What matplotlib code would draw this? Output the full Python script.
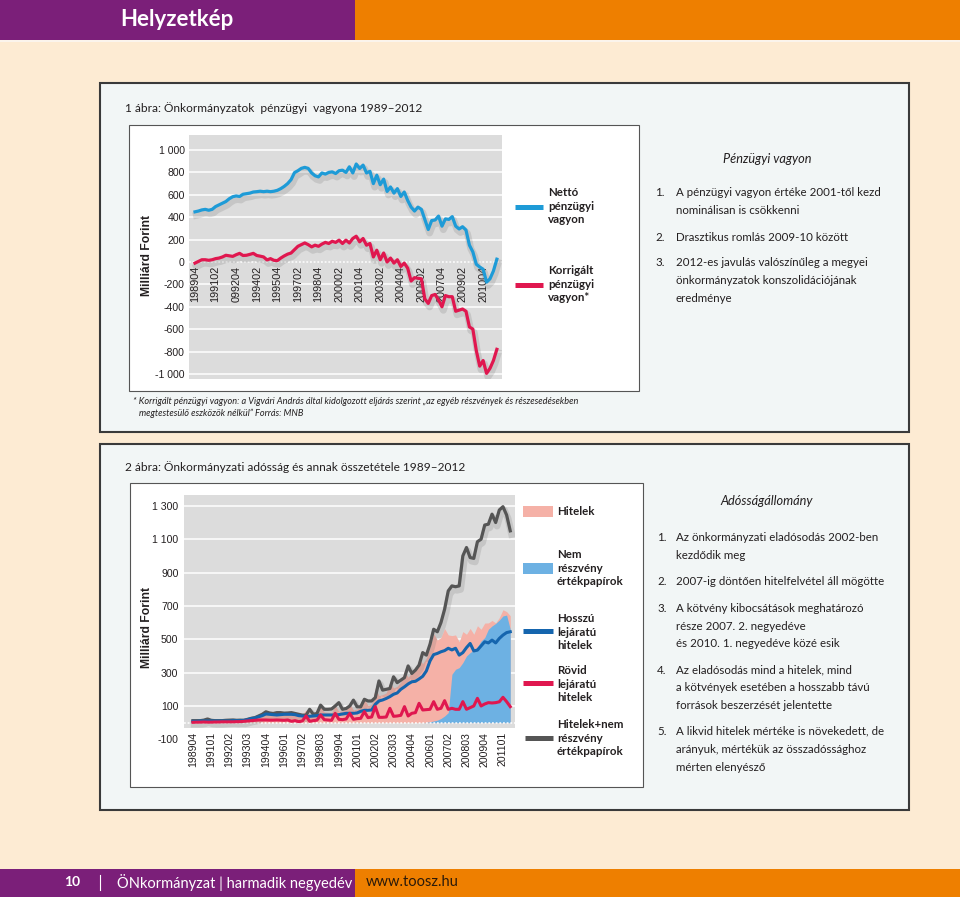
import matplotlib.pyplot as plt
import matplotlib.patheffects as pe
from matplotlib import font_manager
from matplotlib.lines import Line2D
from matplotlib.patches import Rectangle
import numpy as np

# 1. ábra - pénzügyi vagyon, negyedéves adatok 1989Q4-2011Q4 (Mrd Ft)
netto = [448, 455, 465, 470, 462, 470, 495, 510, 525, 540,
         565, 583, 590, 585, 605, 610, 615, 625, 628, 632,
         628, 632, 628, 632, 640, 655, 675, 700, 735, 798,
         815, 836, 845, 836, 795, 770, 760, 795, 785, 800,
         805, 790, 815, 820, 800, 850, 795, 875, 835, 865,
         795, 810, 700, 775, 690, 740, 630, 670, 615, 655,
         585, 625, 550, 490, 455, 490, 470, 380, 290, 370,
         375, 410, 320, 385, 380, 405, 320, 295, 315, 285,
         150, 90, -20, -45, -65, -180, -150, -80, 25]
korrigalt = [-10, 5, 20, 20, 15, 20, 30, 35, 45, 60,
             55, 50, 65, 77, 58, 60, 68, 77, 58, 52,
             45, 18, 30, 15, 12, 35, 54, 70, 80, 110,
             140, 155, 170, 155, 135, 150, 140, 160, 175, 165,
             185, 175, 195, 165, 195, 170, 210, 230, 180, 210,
             150, 165, 45, 105, 20, 80, 0, 35, -10, 20,
             -40, -10, -55, -170, -140, -145, -150, -330, -370, -300,
             -290, -340, -400, -300, -310, -310, -440, -430, -420, -440,
             -580, -600, -790, -930, -880, -995, -950, -880, -780]
ticks1 = ['198904', '199102', '099204', '199402', '199504', '199702', '199804', '200002',
          '200104', '200302', '200404', '200602', '200704', '200902', '201004']

# 2. ábra - adósság, 1989Q4-2011Q3 (Mrd Ft)
osszes = [12, 12, 12, 15, 22, 14, 12, 12, 12, 14,
          15, 16, 14, 15, 14, 20, 26, 30, 40, 50,
          65, 58, 55, 60, 60, 57, 58, 60, 55, 50,
          45, 45, 80, 50, 55, 105, 80, 80, 82, 100,
          120, 80, 85, 100, 135, 95, 95, 140, 130, 130,
          150, 250, 195, 200, 205, 275, 240, 255, 270, 340,
          295, 315, 345, 420, 405, 470, 560, 545, 600, 680,
          790, 820, 815, 820, 1000, 1050, 990, 985, 1085, 1100,
          1185, 1190, 1250, 1200, 1275, 1295, 1245, 1150]
hosszu = [8, 8, 10, 10, 10, 10, 10, 10, 10, 10,
          10, 12, 12, 12, 14, 18, 25, 28, 35, 42,
          52, 50, 48, 46, 48, 50, 50, 50, 48, 42,
          40, 36, 38, 40, 42, 46, 46, 46, 46, 46,
          48, 52, 56, 56, 56, 58, 68, 74, 74, 76,
          110, 130, 136, 145, 156, 170, 178, 200, 215, 232,
          245, 248, 262, 278, 310, 370, 408, 415, 425, 432,
          446, 436, 446, 405, 420, 450, 475, 430, 435, 460,
          485, 478, 495, 478, 505, 525, 540, 545]
rovid = [2, 3, 3, 4, 3, 3, 4, 4, 5, 5,
         5, 5, 6, 6, 8, 10, 12, 14, 16, 16,
         16, 15, 15, 16, 15, 14, 16, 8, 12, 6,
         10, 40, 8, 12, 15, 46, 18, 16, 14, 56,
         20, 18, 22, 56, 20, 24, 26, 66, 30, 34,
         96, 32, 32, 34, 86, 38, 40, 44, 96, 40,
         56, 60, 116, 76, 78, 80, 126, 80, 86, 132,
         80, 86, 80, 80, 126, 80, 90, 100, 146, 100,
         112, 120, 118, 120, 125, 152, 126, 96]
papirok = [0] * 64 + [2, 5, 10, 15, 25, 40,
                      60, 290, 320, 330, 360, 400, 420, 435, 455, 490,
                      510, 560, 580, 595, 615, 640, 645, 560]
ticks2 = ['198904', '199101', '199202', '199303', '199404', '199601', '199702', '199803',
          '199904', '200101', '200202', '200303', '200404', '200601', '200702', '200803',
          '200904', '201101']

# colours
cream = '#fdebd3'
panel = '#f2f6f6'
purple = '#7b1f79'
orange = '#ee7f00'
plotgray = '#dcdcdc'
blue1 = '#1e9bd7'
red1 = '#e0174f'
pink = '#f5b1a7'
lightblue = '#6db1e3'
darkblue = '#1565ae'
darkgray = '#555555'

fonts = {f.name for f in font_manager.fontManager.ttflist}
body = 'Lato' if 'Lato' in fonts else 'DejaVu Sans'
chartfont = 'Liberation Sans' if 'Liberation Sans' in fonts else 'DejaVu Sans'

W, H = 960, 897
fig = plt.figure(figsize=(W / 100, H / 100), dpi=100)
fig.patch.set_facecolor(cream)


def fx(x):
    return x / W


def fy(y):
    return 1 - y / H


def rect(x0, y0, x1, y1, fc, ec='none', lw=0, z=-10):
    fig.add_artist(Rectangle((fx(x0), fy(y1)), fx(x1) - fx(x0), fy(y0) - fy(y1),
                             transform=fig.transFigure, facecolor=fc, edgecolor=ec,
                             linewidth=lw, zorder=z))


def hline(x0, x1, y, color, lw):
    fig.add_artist(Line2D([fx(x0), fx(x1)], [fy(y), fy(y)], color=color, lw=lw,
                          solid_capstyle='butt'))


def txt(x, y, s, **kw):
    kw.setdefault('va', 'center')
    kw.setdefault('family', body)
    kw.setdefault('fontsize', 8.3)
    kw.setdefault('color', '#231f20')
    fig.text(fx(x), fy(y), s, **kw)


def axes_at(x0, y0, x1, y1):
    return fig.add_axes([fx(x0), fy(y1), fx(x1) - fx(x0), fy(y0) - fy(y1)])


# header and footer bands
rect(0, 0, 355, 40, purple)
rect(355, 0, 960, 40, orange)
rect(0, 40, 960, 42, '#fbf4ec')
txt(120, 19, 'Helyzetkép', color='white', fontweight='bold', fontsize=16)
rect(0, 869, 355, 897, purple)
rect(355, 869, 960, 897, orange)
txt(64, 882, '10', color='white', fontweight='bold', fontsize=10)
fig.add_artist(Line2D([fx(100), fx(100)], [fy(875), fy(890)], color='white', lw=0.8))
txt(117, 882, 'ÖNkormányzat | harmadik negyedév', color='white', fontsize=10.5)
txt(366, 882, 'www.toosz.hu', color='#2b1a0a', fontsize=10.5)

# panels
rect(100, 83, 909, 432, panel, '#3a3a3a', 1.5)
rect(129, 125, 639, 391, 'white', '#555555', 0.8, z=-9)
rect(100, 444, 909, 810, panel, '#3a3a3a', 1.5)
rect(130, 483, 643, 787, 'white', '#555555', 0.8, z=-9)

txt(125, 108, '1 ábra: Önkormányzatok  pénzügyi  vagyona 1989–2012', fontsize=8.6)
txt(125, 467, '2 ábra: Önkormányzati adósság és annak összetétele 1989–2012', fontsize=8.6)

shadow = [pe.SimpleLineShadow(offset=(1, -2.5), shadow_color='#707070', alpha=0.2, linewidth=5),
          pe.Normal()]

# ---- chart 1
ax1 = axes_at(189, 135, 502, 379)
ax1.set_facecolor(plotgray)
q1 = np.arange(len(netto))
yt1 = list(range(-1000, 1001, 200))
for v in yt1:
    ax1.axhline(v, color='white', lw=1.1, ls=(0, (1.2, 1.2)) if v == 0 else '-', zorder=1)
ax1.plot(q1, netto, color=blue1, lw=2.3, path_effects=shadow, zorder=3)
ax1.plot(q1, korrigalt, color=red1, lw=2.3, path_effects=shadow, zorder=3)
ax1.set_xlim(-1.75, 89.5)
ax1.set_ylim(-1045, 1134)
ax1.set_xticks([])
ax1.set_yticks(yt1)
ax1.set_yticklabels([f'{v:,}'.replace(',', ' ') for v in yt1], family=chartfont)
ax1.tick_params(axis='y', length=0, pad=3, labelsize=7.6, labelcolor='#231f20')
for i, lab in enumerate(ticks1):
    ax1.annotate(lab, (i * 6, 0), xytext=(0, -3), textcoords='offset points', rotation=90,
                 ha='center', va='top', fontsize=7.8, family=chartfont, color='#231f20', zorder=2)
for s in ax1.spines.values():
    s.set_visible(False)
txt(147, 255, 'Milliárd Forint', rotation=90, ha='center', fontweight='bold',
    fontsize=8.7, family=chartfont)

# legend 1
hline(515, 543, 207, blue1, 3.6)
txt(548, 206, 'Nettó\npénzügyi\nvagyon', fontweight='bold', linespacing=1.25)
hline(515, 543, 285, red1, 3.6)
txt(548, 284, 'Korrigált\npénzügyi\nvagyon*', fontweight='bold', linespacing=1.25)

txt(133, 401, '* Korrigált pénzügyi vagyon: a Vigvári András által kidolgozott eljárás szerint '
    '„az egyéb részvények és részesedésekben', style='italic', fontsize=6.6)
txt(139, 413, 'megtestesülő eszközök nélkül” Forrás: MNB', style='italic', fontsize=6.6)

# right text 1
txt(767, 159, 'Pénzügyi vagyon', style='italic', ha='center', fontsize=9.2)
items1 = [(192, '1.', 'A pénzügyi vagyon értéke 2001-től kezd'),
          (210, '', 'nominálisan is csökkenni'),
          (237, '2.', 'Drasztikus romlás 2009-10 között'),
          (263, '3.', '2012-es javulás valószínűleg a megyei'),
          (280, '', 'önkormányzatok konszolidációjának'),
          (298, '', 'eredménye')]
for y, num, s in items1:
    txt(655, y, num)
    txt(676, y, s)

# ---- chart 2
ax2 = axes_at(184, 495, 515, 742)
ax2.set_facecolor('none')
q2 = np.arange(len(osszes))
hitelek = np.array(hosszu) + np.array(rovid)
ax2.set_xlim(-2.45, 88.3)
ax2.set_ylim(-116, 1365)
ax2.axhspan(-30, 1365, color=plotgray, lw=0, zorder=0)
yt2 = list(range(-100, 1301, 200))
for v in yt2[1:]:
    ax2.axhline(v, color='white', lw=1.1, zorder=1)
ax2.fill_between(q2, 0, hitelek, color=pink, lw=0, zorder=2)
ax2.fill_between(q2, 0, papirok, color=lightblue, lw=0, zorder=2.1)
ax2.axhline(0, color='white', lw=1.1, ls=(0, (1.2, 1.2)), zorder=2.2)
ax2.plot(q2, osszes, color=darkgray, lw=2.3, path_effects=shadow, zorder=3)
ax2.plot(q2, hosszu, color=darkblue, lw=2.2, zorder=3.1)
ax2.plot(q2, rovid, color=red1, lw=2.2, zorder=3.2)
ax2.set_xticks([])
ax2.set_yticks(yt2)
ax2.set_yticklabels([f'{v:,}'.replace(',', ' ') for v in yt2], family=chartfont)
ax2.tick_params(axis='y', length=0, pad=4, labelsize=7.6, labelcolor='#231f20')
for i, lab in enumerate(ticks2):
    ax2.annotate(lab, (i * 5, -30), xytext=(0, -3), textcoords='offset points', rotation=90,
                 ha='center', va='top', fontsize=7.6, family=chartfont, color='#231f20')
for s in ax2.spines.values():
    s.set_visible(False)
txt(147, 627, 'Milliárd Forint', rotation=90, ha='center', fontweight='bold',
    fontsize=8.7, family=chartfont)

# legend 2
rect(523, 506, 553, 517, pink, z=2)
txt(557, 511, 'Hitelek', fontweight='bold')
rect(523, 563, 553, 574, lightblue, z=2)
txt(557, 568, 'Nem\nrészvény\nértékpapírok', fontweight='bold', linespacing=1.25)
hline(523, 553, 631, darkblue, 3.6)
txt(557, 632, 'Hosszú\nlejáratú\nhitelek', fontweight='bold', linespacing=1.25)
hline(523, 553, 683, red1, 3.6)
txt(557, 684, 'Rövid\nlejáratú\nhitelek', fontweight='bold', linespacing=1.25)
hline(525, 553, 738, darkgray, 3.6)
txt(557, 738, 'Hitelek+nem\nrészvény\nértékpapírok', fontweight='bold', linespacing=1.25)

# right text 2
txt(767, 501, 'Adósságállomány', style='italic', ha='center', fontsize=9.2)
items2 = [(537, '1.', 'Az önkormányzati eladósodás 2002-ben'),
          (555, '', 'kezdődik meg'),
          (581, '2.', '2007-ig döntően hitelfelvétel áll mögötte'),
          (608, '3.', 'A kötvény kibocsátások meghatározó'),
          (626, '', 'része 2007. 2. negyedéve'),
          (643, '', 'és 2010. 1. negyedéve közé esik'),
          (670, '4.', 'Az eladósodás mind a hitelek, mind'),
          (687, '', 'a kötvények esetében a hosszabb távú'),
          (705, '', 'források beszerzését jelentette'),
          (731, '5.', 'A likvid hitelek mértéke is növekedett, de'),
          (749, '', 'arányuk, mértékük az összadóssághoz'),
          (767, '', 'mérten elenyésző')]
for y, num, s in items2:
    txt(657, y, num)
    txt(676, y, s)

fig.savefig('out.png', dpi=100, facecolor=fig.get_facecolor())
